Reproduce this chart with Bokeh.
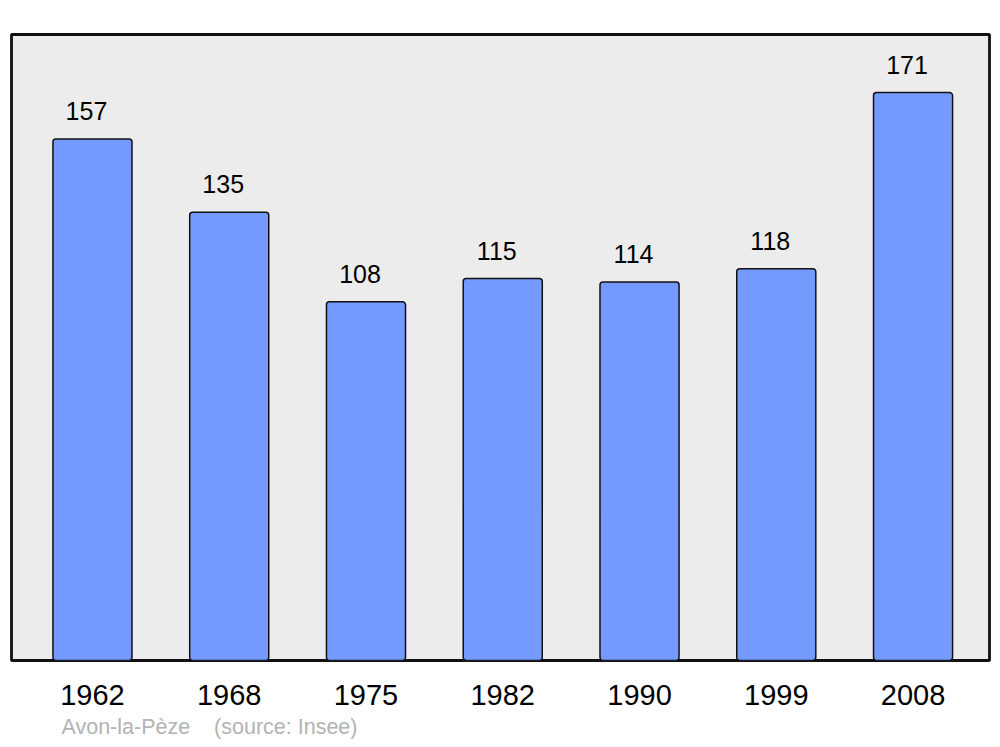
from bokeh.plotting import figure
from bokeh.models import ColumnDataSource, Range1d, FixedTicker, Title
from bokeh.core.properties import value
from bokeh.embed import file_html
from bokeh.resources import INLINE

years = ["1962", "1968", "1975", "1982", "1990", "1999", "2008"]
population = [157, 135, 108, 115, 114, 118, 171]
commune = "Avon-la-Pèze"
source_note = "(source: Insee)"

idx = list(range(len(years)))
src = ColumnDataSource(dict(x=idx, top=population, label=[str(v) for v in population]))

p = figure(width=992, height=745, output_backend="svg", toolbar_location=None,
           x_range=Range1d(-0.592, 6.559), y_range=Range1d(0, 188.5),
           min_border_left=11, min_border_right=3, min_border_top=34, min_border_bottom=85)

p.background_fill_color = "#ececec"
p.border_fill_color = "white"
p.outline_line_color = "#111111"
p.outline_line_width = 2.8
p.grid.visible = False
p.yaxis.visible = False

p.vbar(x="x", top="top", bottom=0, width=0.578, source=src,
       fill_color="#7499ff", line_color="#111111", line_width=1.5, border_radius=3)

p.text(x="x", y="top", text="label", source=src, x_offset=-6, y_offset=-28,
       text_align="center", text_baseline="alphabetic",
       text_font=value("Liberation Sans"), text_font_size="25px", text_color="black")

ax = p.xaxis[0]
ax.ticker = FixedTicker(ticks=idx)
ax.major_label_overrides = {i: y for i, y in zip(idx, years)}
ax.axis_line_color = None
ax.major_tick_line_color = None
ax.minor_tick_line_color = None
ax.major_label_standoff = 18
ax.major_label_text_font = "Liberation Sans"
ax.major_label_text_font_size = "29px"
ax.major_label_text_color = "black"

p.add_layout(Title(text=commune + "\u00a0\u00a0\u00a0\u00a0" + source_note, align="left", offset=50,
                   standoff=11, text_font="Liberation Sans", text_font_size="21.5px",
                   text_font_style="normal", text_color="#b3b3b3"), "below")

open("out.html", "w").write(file_html(p, INLINE))
